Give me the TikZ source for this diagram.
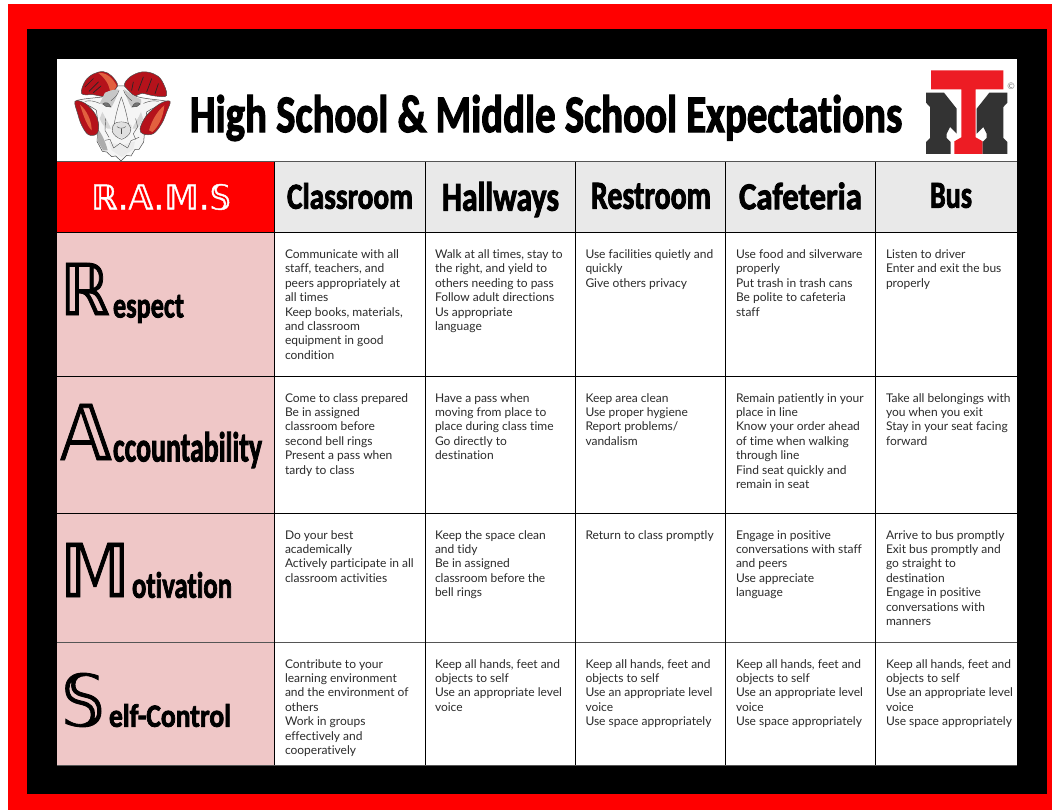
\documentclass[tikz,border=0pt]{standalone}
\usepackage{fontspec}
\usepackage{graphicx}
\setmainfont[Ligatures=NoCommon]{Lato}
\newfontfamily\hfont[FakeBold=2.5,Ligatures=NoCommon]{Carlito Bold}
\newfontfamily\dbl[FakeBold=1.2]{DejaVu Sans}
\definecolor{rred}{HTML}{FF0000}
\definecolor{rpink}{HTML}{EFC7C7}
\definecolor{rgray}{HTML}{E9E9E9}
\definecolor{rtext}{HTML}{2B2B2B}
\definecolor{rline}{HTML}{555555}
\definecolor{tmred}{HTML}{ED1C24}
\definecolor{tmdark}{HTML}{333333}
\definecolor{hornred}{HTML}{B5121B}
\definecolor{hornlight}{HTML}{E2603F}
\tikzset{
  fit label/.style={inner sep=0pt,outer sep=0pt,text=black},
  body cell/.style={anchor=north west,inner sep=0pt,outer sep=0pt,align=left,text=rtext,
    font=\fontsize{12}{14.4}\selectfont},
  horn/.style={draw=black!70,line width=.5pt,fill=hornred},
  ramline/.style={draw=black!70,line width=.4pt,line cap=round,line join=round},
  hornline/.style={draw=black!85,line width=.7pt,line cap=round},
  hrule/.style={draw=rline,line width=1pt},
  vrule/.style={draw=black,line width=1pt}
}
\newcommand{\fitnode}[7]{\node[fit label,#6] (#1) at (#2,#3) {\resizebox*{#4pt}{#5pt}{#7}};}
\newcommand{\bodycell}[4]{\node[body cell] (#1) at (#2,#3) {\rule{0pt}{10pt}#4};}
\begin{document}
\begin{tikzpicture}[x=1pt,y=-1pt]
\useasboundingbox (0,0) rectangle (1052,810);
% frames
\fill[white] (0,0) rectangle (1052,810);
\fill[rred] (8,4) rectangle (1052,810);
\fill[black] (27,29) rectangle (1047,794);
\fill[white] (57,59) rectangle (1017,765);
% table fills
\fill[rred] (57,162) rectangle (275,233);
\fill[rgray] (275,162) rectangle (1017,233);
\fill[rpink] (57,233) rectangle (275,765);
% rules
\foreach \yy in {233,376,513} \draw[vrule] (57,\yy) -- (1017,\yy);
\foreach \yy in {162,642,765} \draw[hrule] (57,\yy) -- (1017,\yy);
\foreach \xx in {274.5,425,575,725,875.5} \draw[vrule] (\xx,162) -- (\xx,765);
% title and headers
\fitnode{title}{546}{118}{712}{46}{}{\hfont High School \& Middle School Expectations}
\fitnode{rams}{161}{197}{140}{26}{text=white}{\dbl ℝ.𝔸.𝕄.𝕊}
\fitnode{hclass}{350}{196}{126}{26}{}{\hfont Classroom}
\fitnode{hhall}{500.5}{199.5}{117}{35}{}{\hfont Hallways}
\fitnode{hrest}{651}{196}{120}{26}{}{\hfont Restroom}
\fitnode{hcaf}{800.5}{196}{123}{27}{}{\hfont Cafeteria}
\fitnode{hbus}{951}{195.5}{42}{25}{}{\hfont Bus}
% row labels
\fitnode{r1}{85}{289}{50}{52}{}{\dbl ℝ}
\fitnode{r1b}{148.5}{309}{71}{28}{}{\hfont espect}
\fitnode{a1}{86}{432}{52}{56}{}{\dbl 𝔸}
\fitnode{a1b}{187.5}{450}{149}{36}{}{\hfont ccountability}
\fitnode{m1}{95}{570}{70}{54}{}{\dbl 𝕄}
\fitnode{m1b}{182}{585}{100}{26}{}{\hfont otivation}
\fitnode{s1}{83}{700}{44}{54}{}{\dbl 𝕊}
\fitnode{s1b}{170}{715.5}{122}{23}{}{\hfont elf-Control}
% body row 1
\bodycell{c11}{285}{248.5}{Communicate with all\\staff, teachers, and\\peers appropriately at\\all times\\Keep books, materials,\\and classroom\\equipment in good\\condition}
\bodycell{c12}{435}{248.5}{Walk at all times, stay to\\the right, and yield to\\others needing to pass\\Follow adult directions\\Us appropriate\\language}
\bodycell{c13}{585.5}{248.5}{Use facilities quietly and\\quickly\\Give others privacy}
\bodycell{c14}{736}{248.5}{Use food and silverware\\properly\\Put trash in trash cans\\Be polite to cafeteria\\staff}
\bodycell{c15}{886}{248.5}{Listen to driver\\Enter and exit the bus\\properly}
% row 2
\bodycell{c21}{285}{392}{Come to class prepared\\Be in assigned\\classroom before\\second bell rings\\Present a pass when\\tardy to class}
\bodycell{c22}{435}{392}{Have a pass when\\moving from place to\\place during class time\\Go directly to\\destination}
\bodycell{c23}{585.5}{392}{Keep area clean\\Use proper hygiene\\Report problems/\\vandalism}
\bodycell{c24}{736}{392}{Remain patiently in your\\place in line\\Know your order ahead\\of time when walking\\through line\\Find seat quickly and\\remain in seat}
\bodycell{c25}{886}{392}{Take all belongings with\\you when you exit\\Stay in your seat facing\\forward}
% row 3
\bodycell{c31}{285}{529}{Do your best\\academically\\Actively participate in all\\classroom activities}
\bodycell{c32}{435}{529}{Keep the space clean\\and tidy\\Be in assigned\\classroom before the\\bell rings}
\bodycell{c33}{585.5}{529}{Return to class promptly}
\bodycell{c34}{736}{529}{Engage in positive\\conversations with staff\\and peers\\Use appreciate\\language}
\bodycell{c35}{886}{529}{Arrive to bus promptly\\Exit bus promptly and\\go straight to\\destination\\Engage in positive\\conversations with\\manners}
% row 4
\bodycell{c41}{285}{658}{Contribute to your\\learning environment\\and the environment of\\others\\Work in groups\\effectively and\\cooperatively}
\bodycell{c42}{435}{658}{Keep all hands, feet and\\objects to self\\Use an appropriate level\\voice}
\bodycell{c43}{585.5}{658}{Keep all hands, feet and\\objects to self\\Use an appropriate level\\voice\\Use space appropriately}
\bodycell{c44}{736}{658}{Keep all hands, feet and\\objects to self\\Use an appropriate level\\voice\\Use space appropriately}
\bodycell{c45}{886}{658}{Keep all hands, feet and\\objects to self\\Use an appropriate level\\voice\\Use space appropriately}
% ram emblem
\begin{scope}[shift={(65,62)},scale=1/3]
% upper horns
\draw[horn] plot[smooth cycle,tension=.6] coordinates {(50,95)(60,58)(85,36)(115,29)(140,42)(158,72)(135,102)(110,103)(85,98)};
\draw[horn] plot[smooth cycle,tension=.6] coordinates {(178,72)(195,45)(230,30)(265,35)(290,55)(305,100)(270,102)(230,94)(205,102)};
\fill[hornlight] (100,33) .. controls (125,30) and (145,50) .. (155,72) .. controls (150,82) and (142,90) .. (135,92) .. controls (135,70) and (120,48) .. (100,33) -- cycle;
\foreach \xa/\ya/\xb/\yb in {60/75/85/50,72/88/100/60,85/92/108/72,235/45/220/85,260/50/245/90,280/65/270/95,205/60/200/85}
  \draw[hornline] (\xa,\ya) -- (\xb,\yb);
% head
\draw[draw=black!70,line width=.5pt,fill=white!96!black] (158,72) -- (178,72) .. controls (190,85) and (200,98) .. (210,102) .. controls (240,112) and (280,112) .. (306,118) .. controls (280,132) and (262,138) .. (245,150) -- (240,195) -- (236,240) -- (222,262) -- (210,262) -- (198,282) -- (185,280) -- (168,297) -- (152,282) -- (140,284) -- (125,270) -- (112,268) -- (96,238) -- (100,190) -- (94,145) .. controls (75,130) and (55,125) .. (36,115) .. controls (65,108) and (100,108) .. (128,102) .. controls (140,98) and (150,85) .. (158,72) -- cycle;
% shading
\fill[black!32] (98,200) .. controls (110,215) and (122,240) .. (128,265) -- (114,265) -- (98,238) -- cycle;
\fill[black!22] (120,92) .. controls (135,85) and (150,82) .. (160,82) .. controls (155,110) and (145,125) .. (138,138) .. controls (128,135) and (115,125) .. (104,125) -- cycle;
\fill[black!22] (178,82) .. controls (195,95) and (210,105) .. (228,112) .. controls (232,125) and (225,130) .. (200,138) .. controls (190,120) and (182,100) .. (178,82) -- cycle;
\fill[black!16] (112,150) .. controls (122,170) and (132,185) .. (138,200) .. controls (125,205) and (112,190) .. (104,170) -- cycle;
\fill[black!16] (228,150) .. controls (220,170) and (208,185) .. (202,200) .. controls (215,205) and (228,190) .. (234,170) -- cycle;
\fill[black!12] (140,190) .. controls (155,180) and (185,180) .. (200,190) .. controls (202,210) and (190,226) .. (170,228) .. controls (150,226) and (138,210) .. (140,190) -- cycle;
\fill[black!8] (132,240) -- (170,250) -- (210,238) -- (205,262) -- (170,285) -- (140,265) -- cycle;
% eyes
\draw[ramline,fill=black!55] (113,126) .. controls (122,118) and (132,122) .. (137,134) .. controls (128,136) and (118,134) .. (113,126) -- cycle;
\draw[ramline,fill=black!55] (226,126) .. controls (217,118) and (207,122) .. (202,134) .. controls (211,136) and (221,134) .. (226,126) -- cycle;
% facial contours
\draw[ramline] (162,85) .. controls (158,100) and (148,108) .. (138,116);
\draw[ramline] (176,85) .. controls (180,100) and (190,108) .. (200,116);
\draw[ramline] (169,105) .. controls (160,130) and (152,160) .. (148,185);
\draw[ramline] (169,105) .. controls (178,130) and (186,160) .. (190,185);
\draw[ramline] (148,185) .. controls (155,178) and (183,178) .. (190,185);
\draw[ramline] (148,185) .. controls (135,200) and (140,222) .. (170,232) .. controls (198,222) and (204,200) .. (190,185);
\draw[ramline] (156,194) .. controls (162,200) and (176,200) .. (182,194);
\draw[ramline] (170,200) -- (170,215);
\draw[ramline] (120,235) -- (135,232) -- (146,258) -- (165,244) -- (188,258) -- (198,236) -- (222,226);
\draw[ramline] (212,170) -- (218,195) -- (205,215) -- (212,232);
\draw[ramline] (122,170) -- (120,205) -- (132,226);
\draw[ramline] (60,118) .. controls (75,114) and (90,118) .. (104,124);
\draw[ramline] (280,118) .. controls (265,114) and (250,118) .. (236,124);
% lower horns
\draw[horn] plot[smooth cycle,tension=.6] coordinates {(30,118)(60,124)(90,155)(101,190)(95,216)(70,218)(50,190)(38,155)};
\draw[horn] plot[smooth cycle,tension=.6] coordinates {(315,118)(285,125)(245,160)(225,200)(235,216)(265,215)(290,185)(305,150)};
\fill[hornlight] (252,205) .. controls (262,170) and (280,145) .. (298,130) .. controls (295,165) and (280,195) .. (262,210) -- cycle;
\fill[hornlight] (45,128) .. controls (55,160) and (65,190) .. (80,205) .. controls (80,175) and (65,145) .. (45,128) -- cycle;
\end{scope}
% TM logo
\begin{scope}[shift={(920,62)},scale=1/3]
\fill[tmred] (33,25) -- (250,25) -- (250,82) -- (167,82) -- (167,226) -- (188,238) -- (188,276) -- (103,276) -- (103,238) -- (124,226) -- (124,82) -- (33,82) -- cycle;
\foreach \sx/\ox in {1/0,-1/280}{
\begin{scope}[shift={(\ox,0)},xscale=\sx]
\fill[tmdark] (18,92) -- (72,92) -- (110,140) -- (110,215) -- (90,195) -- (80,215) -- (80,228) -- (92,240) -- (92,276) -- (18,276) -- (18,240) -- (30,228) -- (30,135) -- (18,122) -- cycle;
\end{scope}}
\end{scope}
\node[inner sep=0pt,text=black!55,font=\fontsize{9}{9}\selectfont] (copyr) at (1011,86) {©};
\end{tikzpicture}
\end{document}
